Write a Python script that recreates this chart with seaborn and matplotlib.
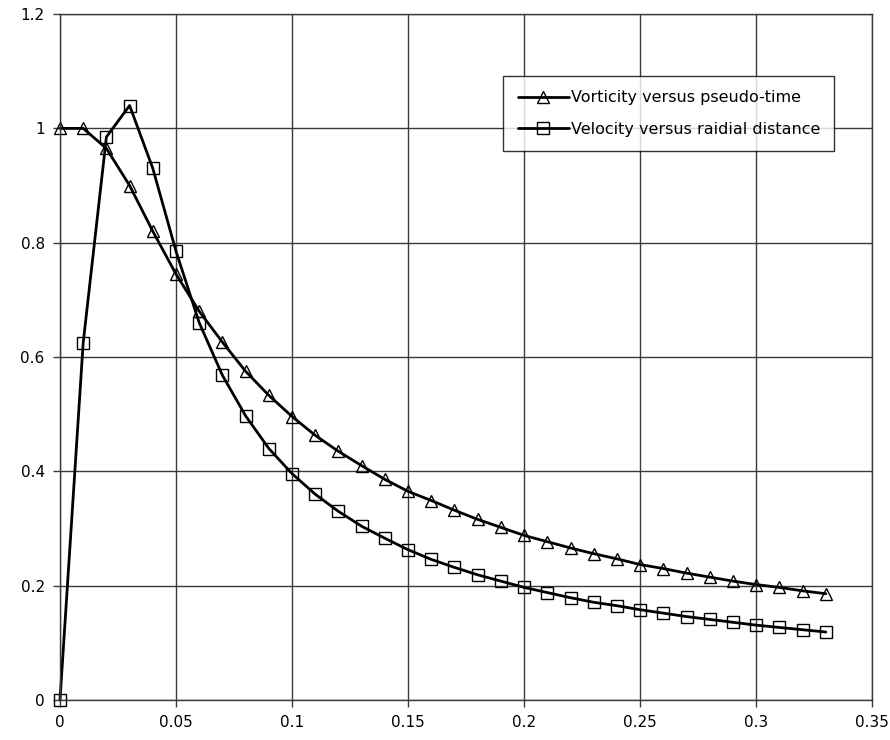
import numpy as np
import pandas as pd
import matplotlib
matplotlib.use("Agg")
import matplotlib.pyplot as plt
import seaborn as sns
from matplotlib.ticker import FuncFormatter

x_vals = [round(0.01 * i, 2) for i in range(34)]
vorticity = [1.0, 1.0, 0.965, 0.90, 0.82, 0.745, 0.68, 0.626, 0.575, 0.533,
             0.496, 0.463, 0.435, 0.41, 0.386, 0.365, 0.349, 0.332, 0.316, 0.302,
             0.288, 0.277, 0.266, 0.256, 0.247, 0.237, 0.230, 0.222, 0.215, 0.208,
             0.202, 0.197, 0.191, 0.186]
velocity = [0.0, 0.625, 0.985, 1.04, 0.93, 0.785, 0.66, 0.568, 0.497, 0.44,
            0.396, 0.36, 0.33, 0.304, 0.283, 0.263, 0.246, 0.232, 0.219, 0.208,
            0.197, 0.188, 0.179, 0.171, 0.165, 0.158, 0.152, 0.146, 0.141, 0.136,
            0.131, 0.127, 0.123, 0.119]
series_names = ["Vorticity versus pseudo-time", "Velocity versus raidial distance"]
x_ticks = [0, 0.05, 0.1, 0.15, 0.2, 0.25, 0.3, 0.35]
y_ticks = [0, 0.2, 0.4, 0.6, 0.8, 1.0, 1.2]

df = pd.DataFrame({
    "x": x_vals * 2,
    "y": vorticity + velocity,
    "series": [series_names[0]] * len(x_vals) + [series_names[1]] * len(x_vals),
})

sns.set_style("white")
plt.rcParams["font.family"] = ["DejaVu Sans"]
plt.rcParams["text.color"] = "black"
plt.rcParams["xtick.color"] = "black"
plt.rcParams["ytick.color"] = "black"

fig = plt.figure(figsize=(8.9, 7.4), dpi=100)
ax = fig.add_axes([0.0674, 0.054, 0.9126, 0.927])

sns.lineplot(data=df, x="x", y="y", hue="series", style="series",
             markers={series_names[0]: "^", series_names[1]: "s"},
             dashes=False, palette={series_names[0]: "black", series_names[1]: "black"},
             linewidth=2, markersize=8.5, markerfacecolor="none",
             markeredgecolor="black", markeredgewidth=1.0, ax=ax, sort=False,
             clip_on=False)

ax.set_xlim(0, 0.35)
ax.set_ylim(0, 1.2)
ax.set_xticks(x_ticks)
ax.set_yticks(y_ticks)
fmt = FuncFormatter(lambda v, p: "%g" % round(v, 3))
ax.xaxis.set_major_formatter(fmt)
ax.yaxis.set_major_formatter(fmt)
ax.grid(True, color="#3a3a3a", linewidth=1.0)
ax.set_axisbelow(True)
for s in ax.spines.values():
    s.set_color("#3a3a3a")
    s.set_linewidth(1.0)
ax.tick_params(axis="both", which="major", length=5, width=1, color="#3a3a3a",
               labelsize=11, direction="out", pad=6, bottom=True, left=True,
               labelcolor="black")
ax.set_xlabel("")
ax.set_ylabel("")

leg = ax.legend(loc="upper left", bbox_to_anchor=(0.546, 0.91), frameon=True,
                fancybox=False, edgecolor="black", fontsize=11.5, handlelength=3.2,
                labelspacing=1.05, borderpad=0.9, handletextpad=0.1,
                borderaxespad=0)
leg.get_frame().set_linewidth(1.0)
for h in leg.legend_handles:
    h.set_markerfacecolor("none")
    h.set_markersize(8)
for t in leg.get_texts():
    t.set_color("black")

fig.savefig("out.png", dpi=100)
